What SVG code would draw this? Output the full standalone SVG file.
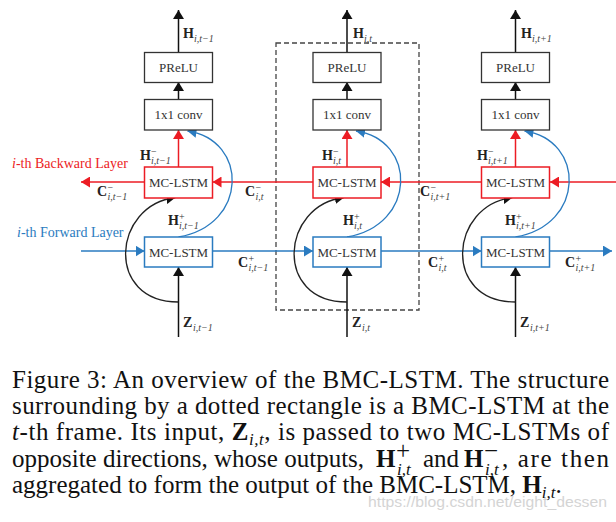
<svg xmlns="http://www.w3.org/2000/svg" width="616" height="522" viewBox="0 0 616 522">
<defs>
<style>
.bx{font:13px "Liberation Serif",serif;fill:#333;text-anchor:middle}
.mb{font:bold 14px "Liberation Serif",serif;fill:#222}
.ms{font:italic 10px "Liberation Serif",serif;fill:#444}
.mp{font:10px "Liberation Serif",serif;fill:#333}
.cap{font:25px "Liberation Serif",serif;fill:#111}
.capb{font-weight:bold}
.capi{font-style:italic}
.capsub{font-style:italic;font-size:17px}
.kbox{fill:#fff;stroke:#333;stroke-width:1.3}
.rbox{fill:#fff;stroke:#EC1C24;stroke-width:1.5}
.bbox{fill:#fff;stroke:#2A7BC0;stroke-width:1.5}
.kl{fill:none;stroke:#111;stroke-width:1.5}
.rl{fill:none;stroke:#EC1C24;stroke-width:1.5}
.bl{fill:none;stroke:#2A7BC0;stroke-width:1.5}
.kc{fill:none;stroke:#222;stroke-width:1.3}
.bc{fill:none;stroke:#2A7BC0;stroke-width:1.3}
</style>
<marker id="ak" viewBox="0 0 9 11" refX="9" refY="5.5" markerWidth="9" markerHeight="11" markerUnits="userSpaceOnUse" orient="auto"><path d="M0,0 L9,5.5 L0,11 z" fill="#111"/></marker>
<marker id="ar" viewBox="0 0 9 11" refX="9" refY="5.5" markerWidth="9" markerHeight="11" markerUnits="userSpaceOnUse" orient="auto"><path d="M0,0 L9,5.5 L0,11 z" fill="#EC1C24"/></marker>
<marker id="ab" viewBox="0 0 9 11" refX="9" refY="5.5" markerWidth="9" markerHeight="11" markerUnits="userSpaceOnUse" orient="auto"><path d="M0,0 L9,5.5 L0,11 z" fill="#2A7BC0"/></marker>
</defs>
<rect width="616" height="522" fill="#fff"/>

<g id="bmc-frame">
<rect x="276" y="43" width="143" height="267" fill="none" stroke="#444" stroke-width="1.3" stroke-dasharray="5 3"/>
</g>

<g id="connectors">
<line class="rl" x1="616" y1="182" x2="550" y2="182" marker-end="url(#ar)"/>
<line class="rl" x1="481" y1="182" x2="381" y2="182" marker-end="url(#ar)"/>
<line class="rl" x1="313" y1="182" x2="212.5" y2="182" marker-end="url(#ar)"/>
<line class="rl" x1="144.5" y1="182" x2="81" y2="182" marker-end="url(#ar)"/>
<line class="bl" x1="81" y1="251" x2="144.5" y2="251" marker-end="url(#ab)"/>
<line class="bl" x1="212.5" y1="251" x2="313" y2="251" marker-end="url(#ab)"/>
<line class="bl" x1="381" y1="251" x2="481.5" y2="251" marker-end="url(#ab)"/>
<line class="bl" x1="549.5" y1="251" x2="612" y2="251" marker-end="url(#ab)"/>
<line class="kl" x1="178.5" y1="52" x2="178.5" y2="10" marker-end="url(#ak)"/>
<line class="kl" x1="178.5" y1="99" x2="178.5" y2="82" marker-end="url(#ak)"/>
<line class="rl" x1="178.5" y1="167" x2="178.5" y2="130" marker-end="url(#ar)"/>
<line class="kl" x1="178.5" y1="337" x2="178.5" y2="267" marker-end="url(#ak)"/>
<path class="bc" d="M178.5,237 C248.5,225 248.5,140 187.5,131" marker-end="url(#ab)"/>
<path class="kc" d="M178.5,302 C104.5,302 112.5,205 175.5,197.5" marker-end="url(#ak)"/>
<line class="kl" x1="347" y1="52" x2="347" y2="10" marker-end="url(#ak)"/>
<line class="kl" x1="347" y1="99" x2="347" y2="82" marker-end="url(#ak)"/>
<line class="rl" x1="347" y1="167" x2="347" y2="130" marker-end="url(#ar)"/>
<line class="kl" x1="347" y1="337" x2="347" y2="267" marker-end="url(#ak)"/>
<path class="bc" d="M347,237 C417,225 417,140 356,131" marker-end="url(#ab)"/>
<path class="kc" d="M347,302 C273,302 281,205 344,197.5" marker-end="url(#ak)"/>
<line class="kl" x1="515.5" y1="52" x2="515.5" y2="10" marker-end="url(#ak)"/>
<line class="kl" x1="515.5" y1="99" x2="515.5" y2="82" marker-end="url(#ak)"/>
<line class="rl" x1="515.5" y1="167" x2="515.5" y2="130" marker-end="url(#ar)"/>
<line class="kl" x1="515.5" y1="337" x2="515.5" y2="267" marker-end="url(#ak)"/>
<path class="bc" d="M515.5,237 C585.5,225 585.5,140 524.5,131" marker-end="url(#ab)"/>
<path class="kc" d="M515.5,302 C441.5,302 449.5,205 512.5,197.5" marker-end="url(#ak)"/>
</g>

<g id="prelu-t-1"><rect class="kbox" x="144.5" y="52.5" width="68" height="30"/><text class="bx" x="178.5" y="71.5">PReLU</text></g>
<g id="conv-t-1"><rect class="kbox" x="144.5" y="99.5" width="68" height="30.5"/><text class="bx" x="178.5" y="119">1x1 conv</text></g>
<g id="bwd-t-1"><rect class="rbox" x="144.5" y="167" width="68" height="31"/><text class="bx" x="178.5" y="187">MC-LSTM</text></g>
<g id="fwd-t-1"><rect class="bbox" x="144.5" y="237" width="68" height="30"/><text class="bx" x="178.5" y="256.5">MC-LSTM</text></g>

<g id="prelu-t"><rect class="kbox" x="313" y="52.5" width="68" height="30"/><text class="bx" x="347" y="71.5">PReLU</text></g>
<g id="conv-t"><rect class="kbox" x="313" y="99.5" width="68" height="30.5"/><text class="bx" x="347" y="119">1x1 conv</text></g>
<g id="bwd-t"><rect class="rbox" x="313" y="167" width="68" height="31"/><text class="bx" x="347" y="187">MC-LSTM</text></g>
<g id="fwd-t"><rect class="bbox" x="313" y="237" width="68" height="30"/><text class="bx" x="347" y="256.5">MC-LSTM</text></g>

<g id="prelu-t+1"><rect class="kbox" x="481.5" y="52.5" width="68" height="30"/><text class="bx" x="515.5" y="71.5">PReLU</text></g>
<g id="conv-t+1"><rect class="kbox" x="481.5" y="99.5" width="68" height="30.5"/><text class="bx" x="515.5" y="119">1x1 conv</text></g>
<g id="bwd-t+1"><rect class="rbox" x="481.5" y="167" width="68" height="31"/><text class="bx" x="515.5" y="187">MC-LSTM</text></g>
<g id="fwd-t+1"><rect class="bbox" x="481.5" y="237" width="68" height="30"/><text class="bx" x="515.5" y="256.5">MC-LSTM</text></g>

<g id="layer-labels">
<text x="12" y="168" font-family="Liberation Serif, serif" font-size="14" fill="#EC1C24"><tspan font-style="italic">i</tspan>-th Backward Layer</text>
<text x="17" y="237" font-family="Liberation Serif, serif" font-size="14" fill="#2A7BC0"><tspan font-style="italic">i</tspan>-th Forward Layer</text>
</g>

<g id="math-labels">
<text class="mb" x="183" y="38">H</text><text class="ms" x="194" y="41.5">i,t−1</text>
<text class="mb" x="353" y="38">H</text><text class="ms" x="364" y="41.5">i,t</text>
<text class="mb" x="521" y="38">H</text><text class="ms" x="532" y="41.5">i,t+1</text>

<text class="mb" x="140" y="160">H</text><text class="mp" x="151" y="155">−</text><text class="ms" x="151" y="163.5">i,t−1</text>
<text class="mb" x="322" y="160">H</text><text class="mp" x="333" y="155">−</text><text class="ms" x="333" y="163.5">i,t</text>
<text class="mb" x="477" y="160">H</text><text class="mp" x="488" y="155">−</text><text class="ms" x="488" y="163.5">i,t+1</text>

<text class="mb" x="97" y="196">C</text><text class="mp" x="107.5" y="191">−</text><text class="ms" x="107.5" y="199.5">i,t−1</text>
<text class="mb" x="245" y="196">C</text><text class="mp" x="255.5" y="191">−</text><text class="ms" x="255.5" y="199.5">i,t</text>
<text class="mb" x="420" y="196">C</text><text class="mp" x="430.5" y="191">−</text><text class="ms" x="430.5" y="199.5">i,t+1</text>

<text class="mb" x="168" y="225">H</text><text class="mp" x="179" y="220">+</text><text class="ms" x="179" y="228.5">i,t−1</text>
<text class="mb" x="343" y="225">H</text><text class="mp" x="354" y="220">+</text><text class="ms" x="354" y="228.5">i,t</text>
<text class="mb" x="505" y="225">H</text><text class="mp" x="516" y="220">+</text><text class="ms" x="516" y="228.5">i,t+1</text>

<text class="mb" x="238" y="267">C</text><text class="mp" x="248.5" y="262">+</text><text class="ms" x="248.5" y="270.5">i,t−1</text>
<text class="mb" x="428" y="267">C</text><text class="mp" x="438.5" y="262">+</text><text class="ms" x="438.5" y="270.5">i,t</text>
<text class="mb" x="565" y="267">C</text><text class="mp" x="575.5" y="262">+</text><text class="ms" x="575.5" y="270.5">i,t+1</text>

<text class="mb" x="183" y="327">Z</text><text class="ms" x="193" y="330.5">i,t−1</text>
<text class="mb" x="352" y="327">Z</text><text class="ms" x="362" y="330.5">i,t</text>
<text class="mb" x="520" y="327">Z</text><text class="ms" x="530" y="330.5">i,t+1</text>
</g>

<g id="caption">
<text class="cap" x="12" y="388" textLength="597" lengthAdjust="spacing">Figure 3: An overview of the BMC-LSTM. The structure</text>
<text class="cap" x="12" y="414" textLength="597" lengthAdjust="spacing">surrounding by a dotted rectangle is a BMC-LSTM at the</text>
<text class="cap" x="12" y="440" textLength="597" lengthAdjust="spacing"><tspan class="capi">t</tspan>-th frame. Its input, <tspan class="capb">Z</tspan><tspan class="capsub" dy="5">i,t</tspan><tspan dy="-5">, is passed to two MC-LSTMs of</tspan></text>
<text class="cap" x="12" y="467">opposite directions, whose outputs,</text>
<text class="cap capb" x="376" y="467">H</text>
<text class="cap" x="396" y="459" font-size="16">+</text>
<text class="cap capsub" x="397" y="475">i,t</text>
<text class="cap" x="423" y="467">and</text>
<text class="cap capb" x="464" y="467">H</text>
<text class="cap" x="484" y="459" font-size="16">−</text>
<text class="cap capsub" x="485" y="475">i,t</text>
<text class="cap" x="502" y="467" textLength="107" lengthAdjust="spacing">, are then</text>
<text class="cap" x="12" y="493">aggregated to form the output of the BMC-LSTM, <tspan class="capb">H</tspan><tspan class="capsub" dy="5">i,t</tspan><tspan dy="-5">.</tspan></text>
</g>

<g id="watermark">
<text x="368" y="507" font-family="Liberation Sans, sans-serif" font-size="14" fill="#d4d4d4" textLength="239" lengthAdjust="spacingAndGlyphs">https://blog.csdn.net/eight_dessen</text>
</g>
</svg>
